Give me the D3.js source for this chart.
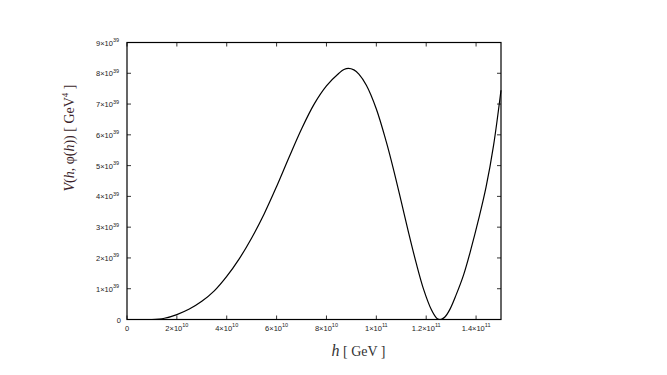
<!DOCTYPE html>
<html><head><meta charset="utf-8">
<script src="https://cdn.jsdelivr.net/npm/d3@7"></script>
<style>body{margin:0;background:#fff}</style>
</head><body>
<svg id="c" width="667" height="375"></svg>
<script>
// data: h in units of 1e10 GeV, V in units of 1e39 GeV^4
const hVals = [1.0,1.5,2.0,2.5,3.0,3.5,4.0,4.5,5.0,5.5,6.0,6.5,7.0,7.5,8.0,8.5,8.7,8.88,9.1,9.3,9.6,10.0,10.4,10.7,11.0,11.3,11.6,11.9,12.2,12.4,12.47,12.55,12.63,12.75,12.95,13.2,13.5,13.8,14.1,14.4,14.7,15.0];
const vVals = [0,0.04,0.16,0.34,0.59,0.93,1.40,1.97,2.65,3.43,4.32,5.27,6.19,6.99,7.59,8.0,8.12,8.16,8.11,7.97,7.61,6.84,5.77,4.84,3.83,2.80,1.83,0.97,0.33,0.06,0.015,0.0,0.013,0.08,0.33,0.8,1.45,2.3,3.25,4.3,5.65,7.45];
const xTicks = [0,2,4,6,8,10,12,14];
const xTickLabels = [["0",""],["2×10","10"],["4×10","10"],["6×10","10"],["8×10","10"],["1×10","11"],["1.2×10","11"],["1.4×10","11"]];
const yTicks = [0,1,2,3,4,5,6,7,8,9];
const yTickLabels = [["0",""],["1×10","39"],["2×10","39"],["3×10","39"],["4×10","39"],["5×10","39"],["6×10","39"],["7×10","39"],["8×10","39"],["9×10","39"]];

const svg = d3.select("#c");
const L=127, R=501, T=42.5, B=319.5;
const x = d3.scaleLinear().domain([0,15]).range([L,R]);
const y = d3.scaleLinear().domain([0,9]).range([B,T]);
const tickLen = 4;
const g = svg.append("g");

// ticks (inward on all four sides)
xTicks.forEach(t=>{
  g.append("line").attr("x1",x(t)).attr("x2",x(t)).attr("y1",B).attr("y2",B-tickLen).attr("stroke","#000").attr("stroke-width",0.8);
  g.append("line").attr("x1",x(t)).attr("x2",x(t)).attr("y1",T).attr("y2",T+tickLen).attr("stroke","#000").attr("stroke-width",0.8);
});
yTicks.forEach(t=>{
  g.append("line").attr("x1",L).attr("x2",L+tickLen).attr("y1",y(t)).attr("y2",y(t)).attr("stroke","#000").attr("stroke-width",0.8);
  g.append("line").attr("x1",R).attr("x2",R-tickLen).attr("y1",y(t)).attr("y2",y(t)).attr("stroke","#000").attr("stroke-width",0.8);
});

// tick labels
const tf = "Liberation Sans, Arial, sans-serif";
xTicks.forEach((t,i)=>{
  const [m,e]=xTickLabels[i];
  const tx = g.append("text").attr("x",x(t)).attr("y",B+11).attr("text-anchor","middle")
    .attr("font-family",tf).attr("font-size",7.5).attr("fill","#222");
  tx.append("tspan").text(m);
  if(e) tx.append("tspan").attr("dy",-3.5).attr("font-size",5.5).text(e);
});
yTicks.forEach((t,i)=>{
  const [m,e]=yTickLabels[i];
  const tx = g.append("text").attr("x",e?119:121).attr("y",y(t)+3).attr("text-anchor","end")
    .attr("font-family",tf).attr("font-size",7.5).attr("fill","#222");
  tx.append("tspan").text(m);
  if(e) tx.append("tspan").attr("dy",-3.5).attr("font-size",5.5).text(e);
});

// curve
const pts = hVals.map((h,i)=>[h,vVals[i]]);
const line = d3.line().x(d=>x(d[0])).y(d=>y(d[1])).curve(d3.curveCatmullRom.alpha(0.5));
g.append("path").attr("d",line(pts)).attr("fill","none").attr("stroke","#000").attr("stroke-width",1.2);

// frame
g.append("rect").attr("x",L).attr("y",T).attr("width",R-L).attr("height",B-T)
  .attr("fill","none").attr("stroke","#000").attr("stroke-width",1.2);

// x label
const xl = svg.append("text").attr("x",358.5).attr("y",356).attr("text-anchor","middle")
  .attr("font-family","Liberation Serif, Times New Roman, serif").attr("font-size",14).attr("fill","#333");
xl.append("tspan").attr("font-style","italic").attr("font-size",16).text("h");
xl.append("tspan").text(" [ GeV ]");

// y label
const yl = svg.append("text").attr("transform","translate(74,138) rotate(-90)").attr("text-anchor","middle")
  .attr("font-family","Liberation Serif, Times New Roman, serif").attr("font-size",14).attr("fill","#3b1f2b");
yl.append("tspan").attr("font-style","italic").text("V");
yl.append("tspan").text("(");
yl.append("tspan").attr("font-style","italic").text("h");
yl.append("tspan").text(", φ(");
yl.append("tspan").attr("font-style","italic").text("h");
yl.append("tspan").text("))  [ GeV");
yl.append("tspan").attr("dy",-6).attr("font-size",9).text("4");
yl.append("tspan").attr("dy",6).text(" ]");
</script>
</body></html>
